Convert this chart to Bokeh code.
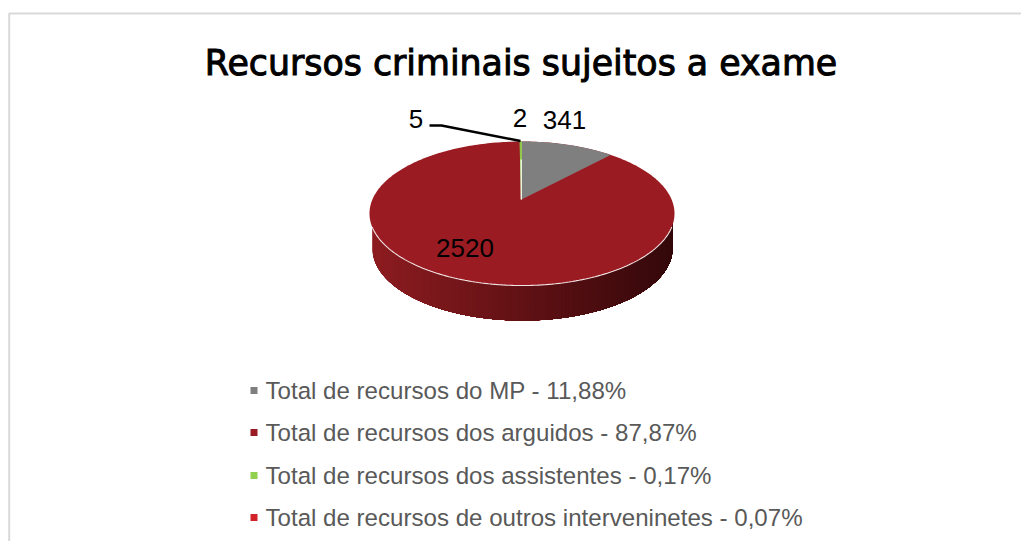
import numpy as np
from bokeh.plotting import figure
from bokeh.models import Range1d
from bokeh.core.properties import value
from bokeh.embed import file_html
from bokeh.resources import INLINE

title = "Recursos criminais sujeitos a exame"
values = [341, 2520, 5, 2]
value_labels = ["341", "2520", "5", "2"]
legend_labels = [
    "Total de recursos do MP - 11,88%",
    "Total de recursos dos arguidos - 87,87%",
    "Total de recursos dos assistentes - 0,17%",
    "Total de recursos de outros interveninetes - 0,07%",
]
colors = ["#7f7f7f", "#9b1b22", "#92d050", "#d2232a"]

W, H = 1021, 541
p = figure(width=W, height=H, x_range=Range1d(0, W), y_range=Range1d(H, 0),
           toolbar_location=None, output_backend="svg", min_border=0, outline_line_color=None,
           background_fill_color="white", border_fill_color="white")
p.axis.visible = False
p.grid.visible = False

# chart frame
p.line([8.7, 8.7, W], [H, 13, 13], line_color="#d9d9d9", line_width=2)

# pie geometry
cx, cy, rx, ry = 521.5, 213.0, 152.5, 72.0
ax, ay = 521.0, 199.0      # apex of the slices
bx, by, brx, bry = 522.0, 248.0, 150.0, 72.0
warp = 0.83                # perspective foreshortening of the angles

# side wall with a horizontal gradient: painter's order, each piece reaches the right end
c0, c1, c2 = np.array([0x8c, 0x1c, 0x20]), np.array([0x5c, 0x10, 0x13]), np.array([0x33, 0x08, 0x0a])
starts = np.linspace(0, np.pi, 121)[:-1]
side_x, side_y, side_cols = [], [], []
for t0 in starts:
    arc = np.linspace(t0, np.pi, 80)
    ex = bx - brx * np.cos(arc)
    ey = by + bry * np.sin(arc)
    side_x.append(np.r_[ex, ex[-1], ex[0]])
    side_y.append(np.r_[ey, cy + 8, cy + 8])
    v = (ex[0] - (bx - brx)) / (2 * brx)
    c = c0 + (c1 - c0) * v / 0.55 if v < 0.55 else c1 + (c2 - c1) * (v - 0.55) / 0.45
    side_cols.append("#%02x%02x%02x" % tuple(int(round(x)) for x in c))
p.patches(side_x, side_y, fill_color=side_cols, line_color=None)

# top face from the values
tt = np.linspace(0, 2 * np.pi, 361)
p.patch(cx + rx * np.sin(tt), cy - ry * np.cos(tt), fill_color=colors[1], line_color=None)

total = sum(values)
cum = np.cumsum([0] + values) / total
for i in [0, 3, 2]:
    a0, a1 = cum[i] * 2 * np.pi, cum[i + 1] * 2 * np.pi
    if i > 0:
        a0, a1 = 2 * np.pi - (2 * np.pi - a0) * warp, 2 * np.pi - (2 * np.pi - a1) * warp
    else:
        a0, a1 = a0 * warp, a1 * warp
    th = np.linspace(a0, a1, 40)
    xs = np.r_[ax, cx + rx * np.sin(th)]
    ys = np.r_[ay, cy - ry * np.cos(th)]
    p.patch(xs, ys, fill_color=colors[i], line_color=colors[i] if i == 2 else None, line_width=1)

# white seam at the start of the first slice and highlight on the front rim
p.line([ax - 0.3, ax - 0.3], [ay, cy - ry + 18], line_color="white", line_width=1.2)
front = np.linspace(np.pi * 0.56, np.pi * 1.44, 120)
p.line(cx + rx * np.sin(front), cy - ry * np.cos(front), line_color="#f3e6e6", line_width=1.1)

# leader line of the small slice
p.line([429, 441, 520], [125, 125, 140.5], line_color="black", line_width=2.4)

# data labels
lab_x = [564, 464.5, 415.5, 519.5]
lab_y = [119, 247, 118, 117]
p.text(lab_x, lab_y, text=value_labels, text_font=value("Liberation Sans"), text_font_size="26px",
       text_align="center", text_baseline="middle", text_color="black")

# title
p.text([520.5], [62], text=[title], text_font=value("DejaVu Sans"), text_font_size="34.8px",
       text_align="center", text_baseline="middle", text_color="black",
       text_outline_color="black")

# legend
leg_y = [390, 432, 475, 517]
p.scatter([253.5] * 4, leg_y, marker="square", size=7, fill_color=colors, line_color=None)
p.text([265] * 4, leg_y, text=legend_labels, text_font=value("Liberation Sans"), text_font_size="24.1px",
       text_align="left", text_baseline="middle", text_color="#595959")

open("out.html", "w").write(file_html(p, INLINE))
